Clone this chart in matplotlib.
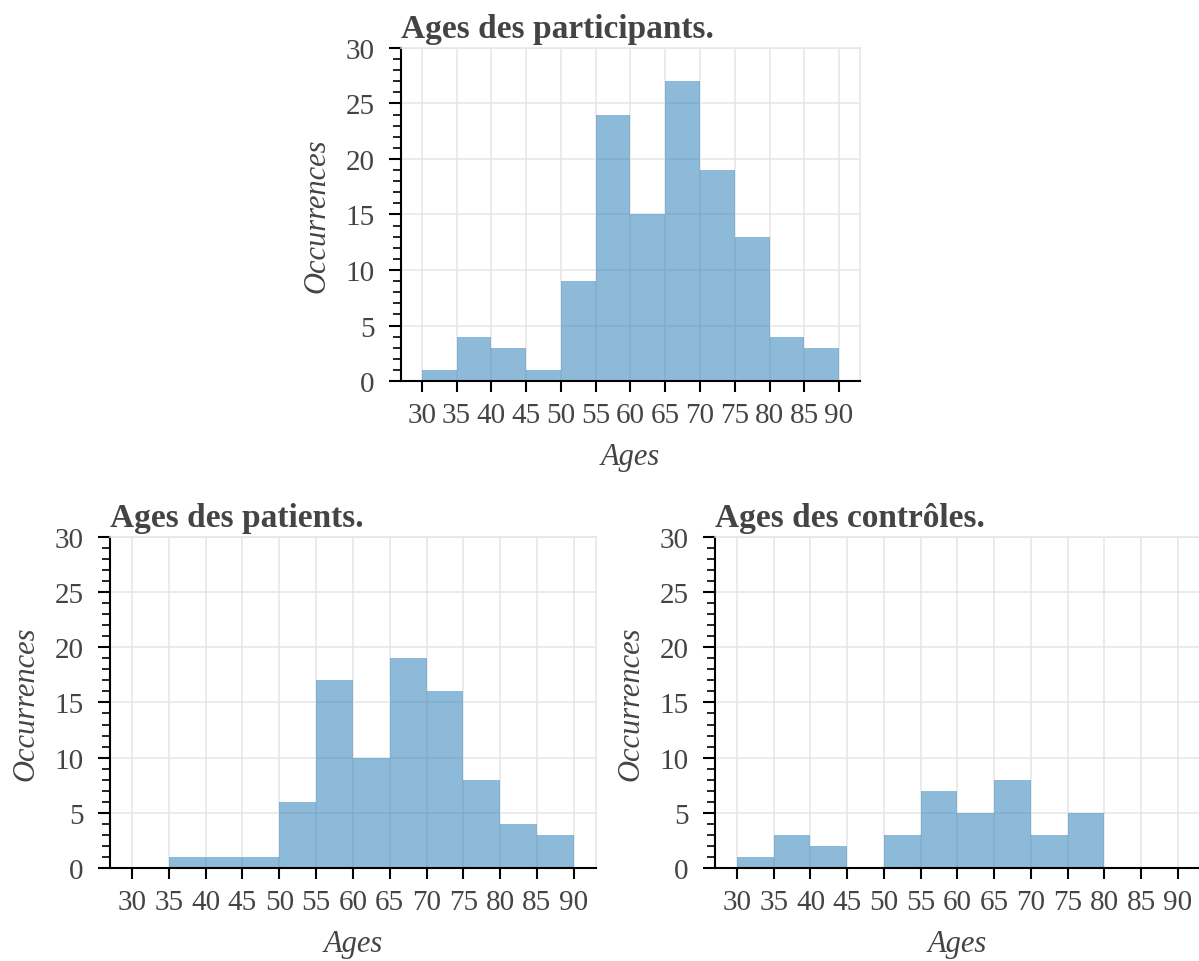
import numpy as np
import matplotlib
matplotlib.use('Agg')
import matplotlib.pyplot as plt
from matplotlib.ticker import MultipleLocator

# age bins (left edges, 5 years wide) and counts per group
bin_left = [30, 35, 40, 45, 50, 55, 60, 65, 70, 75, 80, 85]
bin_width = 5
participants = [1, 4, 3, 1, 9, 24, 15, 27, 19, 13, 4, 3]
patients = [0, 1, 1, 1, 6, 17, 10, 19, 16, 8, 4, 3]
controls = [1, 3, 2, 0, 3, 7, 5, 8, 3, 5, 0, 0]
xticks = [30, 35, 40, 45, 50, 55, 60, 65, 70, 75, 80, 85, 90]

txt_col = '#444444'
grid_col = '#e5e5e5'
bar_col = '#1f77b4'

plt.rcParams['font.family'] = ['Liberation Serif', 'DejaVu Serif']
plt.rcParams['text.color'] = txt_col


def hist_panel(ax, counts, title):
    ax.bar(bin_left, counts, width=bin_width, align='edge',
           color=bar_col, alpha=0.5, linewidth=0, zorder=2)
    ax.set_xlim(27, 93)
    ax.set_ylim(0, 30)
    ax.set_xticks(xticks)
    ax.yaxis.set_major_locator(MultipleLocator(5))
    ax.yaxis.set_minor_locator(MultipleLocator(1))
    ax.grid(True, color=grid_col, linewidth=1.1, zorder=0)
    ax.set_axisbelow(True)

    for s in ['top', 'right']:
        ax.spines[s].set_color(grid_col)
        ax.spines[s].set_linewidth(1.1)
    for s in ['left', 'bottom']:
        ax.spines[s].set_color('black')
        ax.spines[s].set_linewidth(1.5)

    ax.tick_params(axis='x', which='major', direction='out', length=8, width=1.5,
                   color='black', labelsize=21, labelcolor=txt_col, pad=7)
    ax.tick_params(axis='y', which='major', direction='out', length=9, width=1.5,
                   color='black', labelsize=21, labelcolor=txt_col, pad=10)
    ax.tick_params(axis='y', which='minor', direction='out', length=5.5, width=1.2,
                   color='black')

    ax.set_title(title, loc='left', fontsize=24, fontweight='bold',
                 color=txt_col, pad=8)
    ax.set_xlabel('Ages', fontsize=22, style='italic', color=txt_col, labelpad=10)
    ax.set_ylabel('Occurrences', fontsize=22, style='italic', color=txt_col,
                  labelpad=10)


fig = plt.figure(figsize=(11.99, 9.62), dpi=100)
ax_all = fig.add_axes([0.3344, 0.6029, 0.3828, 0.3462])
ax_pat = fig.add_axes([0.0917, 0.0967, 0.4053, 0.3441])
ax_ctl = fig.add_axes([0.5963, 0.0967, 0.4045, 0.3441])

hist_panel(ax_all, participants, 'Ages des participants.')
hist_panel(ax_pat, patients, 'Ages des patients.')
hist_panel(ax_ctl, controls, 'Ages des contrôles.')

fig.savefig('out.png', dpi=100)
